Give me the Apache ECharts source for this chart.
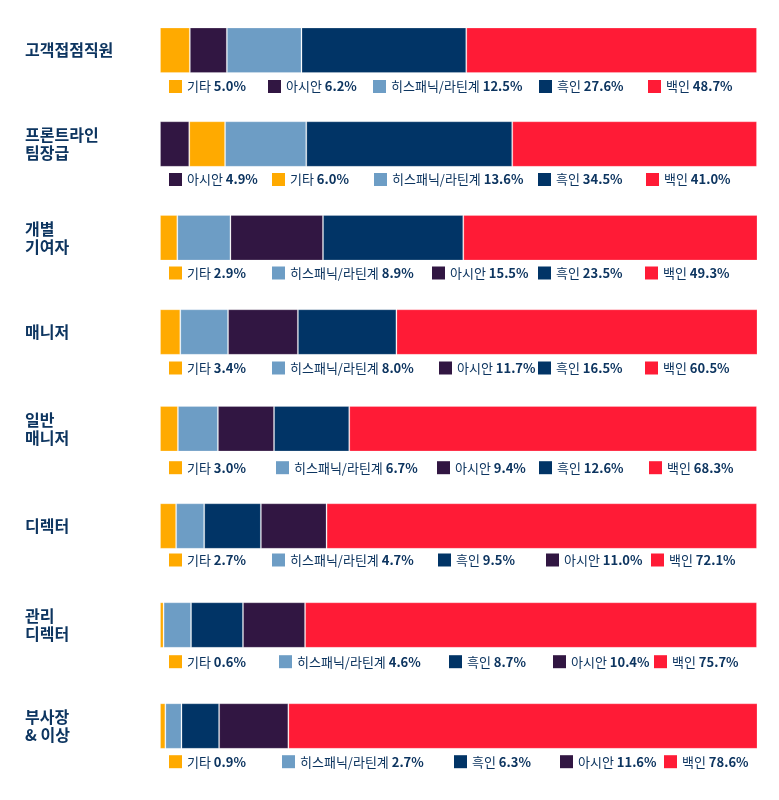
<!DOCTYPE html>
<html>
<head>
<meta charset="utf-8">
<script src="https://cdn.jsdelivr.net/npm/echarts@6/dist/echarts.min.js"></script>
<style>
html,body{margin:0;padding:0;background:#fff;}
#chart{width:779px;height:800px;}
</style>
</head>
<body>
<div id="chart"></div>
<script>
// ---- data ----
const categories = ['고객접점직원', '프론트라인\n팀장급', '개별\n기여자', '매니저', '일반\n매니저', '디렉터', '관리\n디렉터', '부사장\n& 이상'];
const groups = ['기타', '아시안', '히스패닉/라틴계', '흑인', '백인'];
const other    = [5.0, 6.0, 2.9, 3.4, 3.0, 2.7, 0.6, 0.9];
const asian    = [6.2, 4.9, 15.5, 11.7, 9.4, 11.0, 10.4, 11.6];
const hispanic = [12.5, 13.6, 8.9, 8.0, 6.7, 4.7, 4.6, 2.7];
const black    = [27.6, 34.5, 23.5, 16.5, 12.6, 9.5, 8.7, 6.3];
const white    = [48.7, 41.0, 49.3, 60.5, 68.3, 72.1, 75.7, 78.6];

// ---- styles / layout ----
const groupValues = [other, asian, hispanic, black, white];
const colors = ['#FFAA00', '#311642', '#6D9DC5', '#013466', '#FF1B36'];
const textColor = '#0D3560';
const font = "'Noto Sans CJK KR', 'Noto Sans', sans-serif";
const barTop = [27.5, 121.3, 215, 309.3, 406, 503.3, 602.3, 703.3];
const barHeight = 45.5;
const legendCenter = [86.5, 179.5, 273, 368, 467.7, 560, 661.7, 761.7];
const legendX = [
  [169, 268, 373, 539, 648],
  [169, 272, 374, 538, 646],
  [169, 272, 432, 538, 645],
  [169, 272, 439, 538, 645],
  [169, 276, 437, 539, 649],
  [169, 272, 438, 546, 651],
  [169, 279, 449, 553, 654],
  [169, 282, 454, 560, 664]
];

const grid = [], xAxis = [], yAxis = [], series = [], legend = [];
categories.forEach((cat, r) => {
  grid.push({ left: 160, right: 22, top: barTop[r], height: barHeight });
  xAxis.push({ gridIndex: r, type: 'value', min: 0, max: 100, show: false });
  const twoLine = cat.indexOf('\n') >= 0;
  yAxis.push({
    gridIndex: r, type: 'category', data: [cat],
    axisLine: { show: false }, axisTick: { show: false },
    axisLabel: {
      align: 'left', margin: 135, fontFamily: font, fontSize: 16, fontWeight: 'bold',
      color: textColor, lineHeight: 18, padding: twoLine ? [16, 0, 0, 0] : [0, 0, 0, 0]
    }
  });
  // segments ordered ascending by value within the row
  const order = groups.map((g, i) => i).sort((a, b) => groupValues[a][r] - groupValues[b][r]);
  order.forEach((gi, k) => {
    const val = groupValues[gi][r];
    series.push({
      type: 'bar', name: groups[gi], stack: 'row' + r,
      xAxisIndex: r, yAxisIndex: r,
      barWidth: '100%',
      itemStyle: { color: colors[gi], borderColor: 'rgba(255,255,255,0.22)', borderWidth: 1 },
      emphasis: { disabled: true },
      data: [val]
    });
    legend.push({
      data: [groups[gi]],
      left: legendX[r][k], top: legendCenter[r] - 7,
      padding: 0, icon: 'rect', itemWidth: 13, itemHeight: 13,
      selectedMode: false,
      itemStyle: { borderWidth: 0 },
      formatter: () => '{n|' + groups[gi] + '} {v|' + val.toFixed(1) + '%}',
      textStyle: {
        fontFamily: font, color: textColor, fontSize: 13, lineHeight: 14,
        rich: {
          n: { fontFamily: font, fontSize: 13, color: textColor, fontWeight: 'normal', lineHeight: 14 },
          v: { fontFamily: font, fontSize: 13, color: textColor, fontWeight: 'bold', lineHeight: 14 }
        }
      }
    });
  });
});

const chart = echarts.init(document.getElementById('chart'));
chart.setOption({
  animation: false,
  backgroundColor: '#ffffff',
  grid, xAxis, yAxis, series, legend,
  tooltip: { show: false }
});
</script>
</body>
</html>
